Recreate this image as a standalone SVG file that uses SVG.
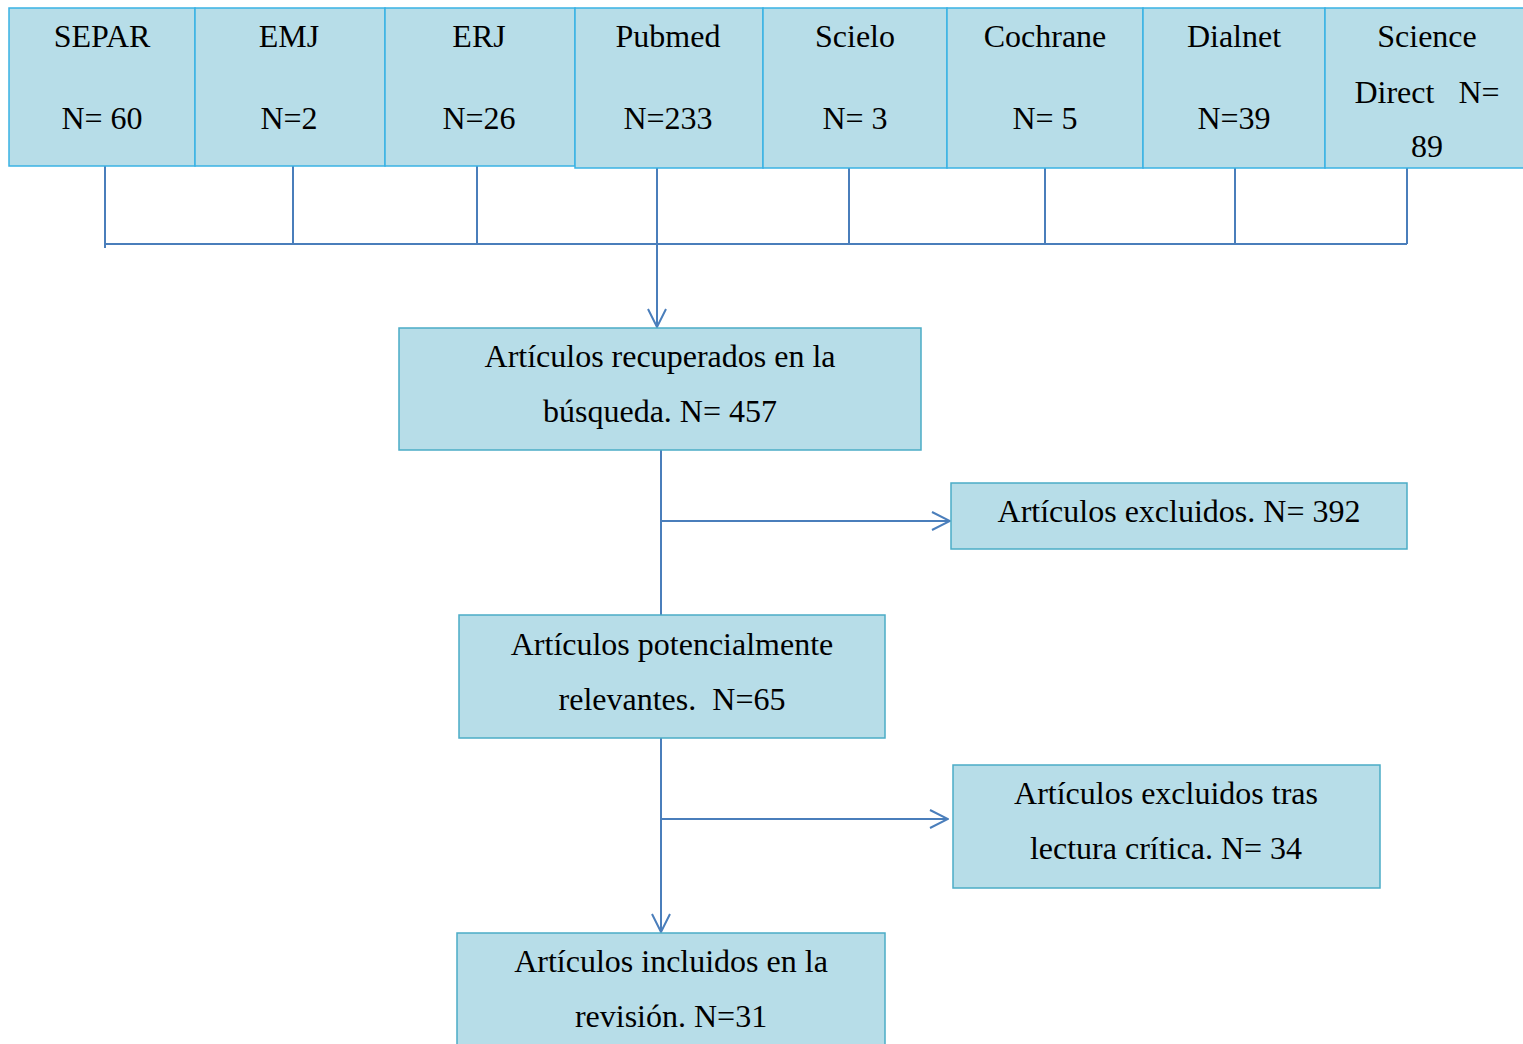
<svg xmlns="http://www.w3.org/2000/svg" width="1523" height="1044" viewBox="0 0 1523 1044">
<style>
.src{fill:#b7dde8;stroke:#3ab2e4;stroke-width:1.5}
.box{fill:#b7dde8;stroke:#4bacc6;stroke-width:1.5}
text{font-family:"Liberation Serif","Times New Roman",serif;font-size:32px;fill:#000;text-anchor:middle}
.c{fill:none;stroke:#4a7ebb;stroke-width:2}
</style>
<defs>
<marker id="ah" viewBox="0 0 20 20" refX="19" refY="10" markerWidth="20" markerHeight="20" markerUnits="userSpaceOnUse" orient="auto">
<path d="M1,1 L19,10 L1,19" fill="none" stroke="#4a7ebb" stroke-width="2"/>
</marker>
</defs>
<rect width="1523" height="1044" fill="#fff"/>
<g id="connectors">
<path class="c" d="M105,163 V248 M293,163 V244 M477,165 V244 M849,168 V244 M1045,168 V244 M1235,168 V244 M1407,168 V244 M105,244 H1407"/>
<path class="c" d="M657,168 V327" marker-end="url(#ah)"/>
<path class="c" d="M661,450 V615"/>
<path class="c" d="M661,521 H950" marker-end="url(#ah)"/>
<path class="c" d="M661,738 V932" marker-end="url(#ah)"/>
<path class="c" d="M661,819 H948" marker-end="url(#ah)"/>
</g>
<g id="separ"><rect class="src" x="9" y="8" width="186" height="158"/><text x="102" y="47">SEPAR</text><text x="102" y="129">N= 60</text></g>
<g id="emj"><rect class="src" x="195" y="8" width="190" height="158"/><text x="289" y="47">EMJ</text><text x="289" y="129">N=2</text></g>
<g id="erj"><rect class="src" x="385" y="8" width="190" height="158"/><text x="479" y="47">ERJ</text><text x="479" y="129">N=26</text></g>
<g id="pubmed"><rect class="src" x="575" y="8" width="188" height="160"/><text x="668" y="47">Pubmed</text><text x="668" y="129">N=233</text></g>
<g id="scielo"><rect class="src" x="763" y="8" width="184" height="160"/><text x="855" y="47">Scielo</text><text x="855" y="129">N= 3</text></g>
<g id="cochrane"><rect class="src" x="947" y="8" width="196" height="160"/><text x="1045" y="47">Cochrane</text><text x="1045" y="129">N= 5</text></g>
<g id="dialnet"><rect class="src" x="1143" y="8" width="182" height="160"/><text x="1234" y="47">Dialnet</text><text x="1234" y="129">N=39</text></g>
<g id="sciencedirect"><rect class="src" x="1325" y="8" width="210" height="160"/><text x="1427" y="47">Science</text><text x="1427" y="103" xml:space="preserve">Direct   N=</text><text x="1427" y="157">89</text></g>
<g id="recuperados"><rect class="box" x="399" y="328" width="522" height="122"/><text x="660" y="367">Artículos recuperados en la</text><text x="660" y="422">búsqueda. N= 457</text></g>
<g id="excluidos"><rect class="box" x="951" y="483" width="456" height="66"/><text x="1179" y="522">Artículos excluidos. N= 392</text></g>
<g id="potenciales"><rect class="box" x="459" y="615" width="426" height="123"/><text x="672" y="655">Artículos potencialmente</text><text x="672" y="710" xml:space="preserve">relevantes.  N=65</text></g>
<g id="excluidos2"><rect class="box" x="953" y="765" width="427" height="123"/><text x="1166" y="804">Artículos excluidos tras</text><text x="1166" y="859">lectura crítica. N= 34</text></g>
<g id="incluidos"><rect class="box" x="457" y="933" width="428" height="130"/><text x="671" y="972">Artículos incluidos en la</text><text x="671" y="1027">revisión. N=31</text></g>
</svg>
